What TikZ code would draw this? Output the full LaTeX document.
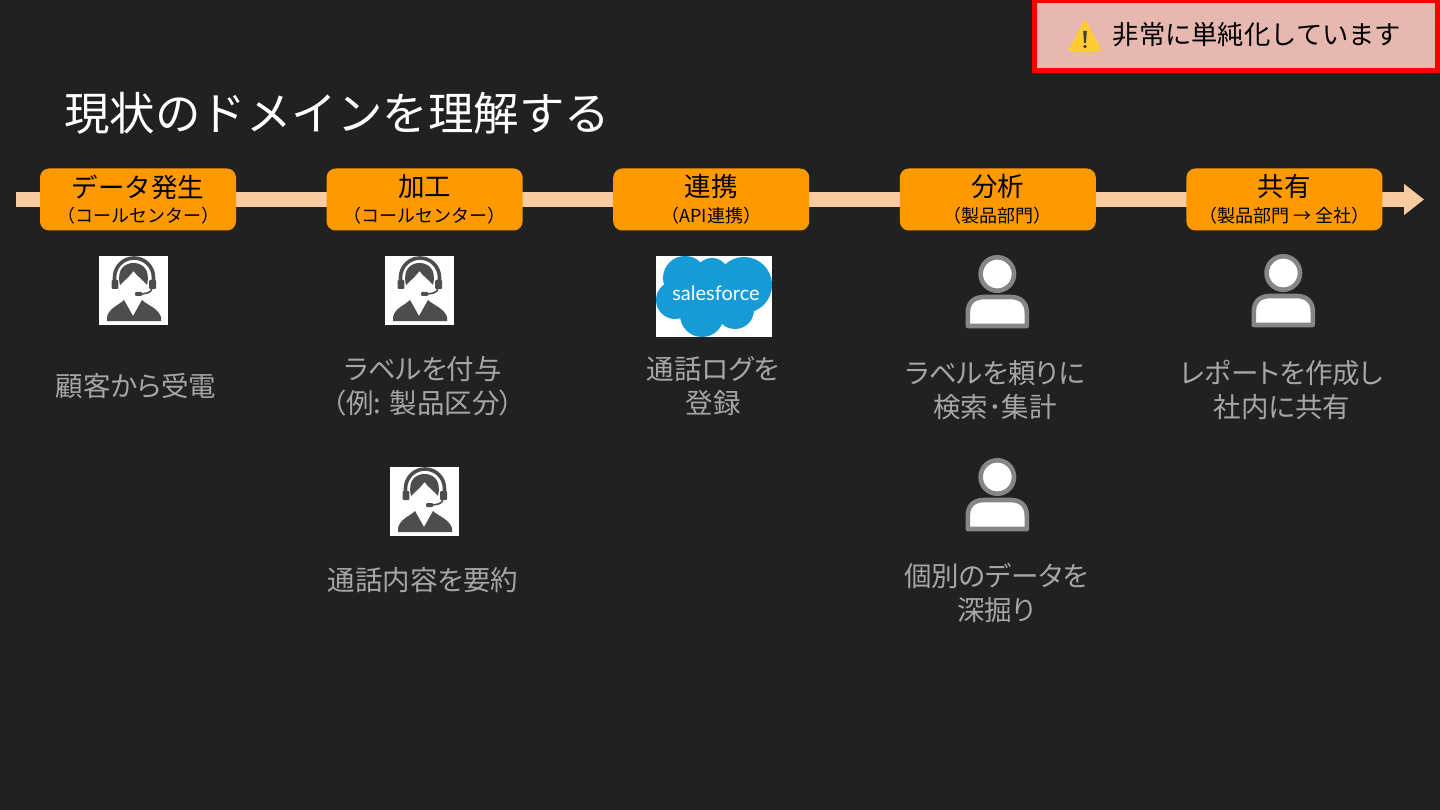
\documentclass[tikz,border=0pt]{standalone}
\usepackage{fontspec}
\setmainfont{Noto Sans CJK JP}
\newfontfamily\latinfont{Lato}
\newfontfamily\notefont[RawFeature=+palt]{Noto Sans CJK JP}
\usetikzlibrary{arrows.meta,positioning}
\definecolor{slide}{HTML}{212121}
\definecolor{stagefill}{HTML}{FF9900}
\definecolor{flowline}{HTML}{F8CBA0}
\definecolor{note}{HTML}{A6A6A6}
\definecolor{warnfill}{HTML}{E6B8AF}
\definecolor{warnsign}{HTML}{FFCC33}
\definecolor{agentgray}{HTML}{4D4D4D}
\definecolor{cloud}{HTML}{169BD7}
\newcommand{\stagetext}[2]{{\fontsize{26.5}{30}\selectfont #1}\\[7pt]{\fontsize{18}{21}\selectfont #2}}
\tikzset{
  stagebox/.style={fill=stagefill, rounded corners=9pt, minimum width=196pt, minimum height=62pt,
    align=center, inner sep=0pt, text=black},
  notetext/.style={text=note, align=center, inner sep=0pt, font=\notefont\fontsize{27.5}{34}\selectfont},
  flow/.style={-{Triangle[length=20pt,width=30pt]}, line width=15pt, draw=flowline},
  pics/agent/.style={code={
    \fill[white] (0,0) rectangle (69,69);
    \fill[agentgray] (8,61) .. controls (10,52) and (20,49) .. (25,44) -- (34,60) -- (43,44)
      .. controls (48,49) and (59,52) .. (62,61) -- (62,65) -- (8,65) -- cycle;
    \fill[agentgray] (21,29) .. controls (17,12) and (27,7) .. (34.5,7) .. controls (42,7) and (52,12) .. (48,29)
      .. controls (44,24) and (38,20) .. (34.5,15) .. controls (31,20) and (25,25) .. (21,29) -- cycle;
    \draw[agentgray, line width=3.6pt] (15.5,24) -- (15.5,21.5) arc (180:360:19.5) -- (54.5,24);
    \fill[agentgray, rounded corners=1pt] (12.7,24) rectangle (19.3,33);
    \fill[agentgray, rounded corners=1pt] (50,24) rectangle (57,33);
    \draw[agentgray, line width=1.6pt] (53,32) .. controls (53,37) and (46,38) .. (40,38);
    \fill[agentgray, rounded corners=1pt] (36,36) rectangle (43,40);
  }},
  pics/person/.style={code={
    \draw[draw=gray!95!white, fill=white, line width=4.6pt] (0,0) circle (16.7);
    \draw[draw=gray!95!white, fill=white, line width=4.6pt, line join=round]
      (-29.5,52) -- (-29.5,39) .. controls (-29.5,28) and (-23,23) .. (-13,23) -- (13,23)
      .. controls (23,23) and (29.5,28) .. (29.5,39) -- (29.5,52) -- cycle;
  }},
  pics/warnsign/.style={code={
    \fill[fill=warnsign, draw=warnsign, line width=2pt, line join=round] (0,-15) -- (15.5,14) -- (-15.5,14) -- cycle;
    \fill[black!75] (-1.8,-5) -- (1.8,-5) -- (1,7) -- (-1,7) -- cycle;
    \fill[black!75] (0,10.5) circle (1.9);
  }},
  x=1pt, y=-1pt,
}

\begin{document}
\begin{tikzpicture}
    \useasboundingbox (0,0) rectangle (1440,810);
    \fill[slide] (0,0) rectangle (1440,810);
    \node[fill=warnfill, draw=red, line width=5pt, minimum width=403.5pt, minimum height=69.5pt, inner sep=0pt] (warnbox) at (1236.2,35.7) {};
    \pic at (1085,36) {warnsign};
    \node[inner sep=0pt, text=black, font=\fontsize{26.3}{30}\selectfont] (warnlabel) at (1257,35) {非常に単純化しています};
    \node[anchor=west, inner sep=0pt, text=white, font=\fontsize{45.5}{50}\selectfont] (title) at (64,113) {現状のドメインを理解する};

    \coordinate (flowstart) at (16,199.5);
    \coordinate (flowend) at (1424,199.5);
    \draw[flow] (flowstart) -- (flowend);

    \node[stagebox] (gen) at (138,199.5) {\stagetext{データ発生}{（コールセンター）}};
    \node[stagebox, right=90.2pt of gen] (proc) {\stagetext{加工}{（コールセンター）}};
    \node[stagebox, right=90.2pt of proc] (link) {\stagetext{連携}{（API連携）}};
    \node[stagebox, right=90.2pt of link] (anal) {\stagetext{分析}{（製品部門）}};
    \node[stagebox, right=90.2pt of anal] (share) {\stagetext{共有}{（製品部門 → 全社）}};

    \foreach \x/\y in {99/256, 385/256, 390/467} \pic at (\x,\y) {agent};
    \foreach \x/\y in {997.3/274, 997.3/477, 1283.3/273} \pic at (\x,\y) {person};

    \fill[white] (656,256) rectangle (772,337);
    \foreach \x/\y/\r in {685/278/22, 712/275/17, 744/285/28, 675/300/19, 702/315/22, 735/310/19, 708/295/28}
      \fill[cloud] (\x,\y) circle (\r);
    \node[inner sep=0pt, text=white, font=\latinfont\fontsize{20}{24}\selectfont] (logo) at (716,293) {salesforce};

    \node[notetext] (call) at (136,386) {顧客から受電};
    \node[notetext] (tagging) at (423,386) {ラベルを付与\\（例: 製品区分）};
    \node[notetext] (summary) at (423,580) {通話内容を要約};
    \node[notetext] (logging) at (713,386) {通話ログを\\登録};
    \node[notetext] (search) at (995,390) {ラベルを頼りに\\検索･集計};
    \node[notetext] (drill) at (996,593) {個別のデータを\\深掘り};
    \node[notetext] (report) at (1282,390) {レポートを作成し\\社内に共有};
\end{tikzpicture}
\end{document}
